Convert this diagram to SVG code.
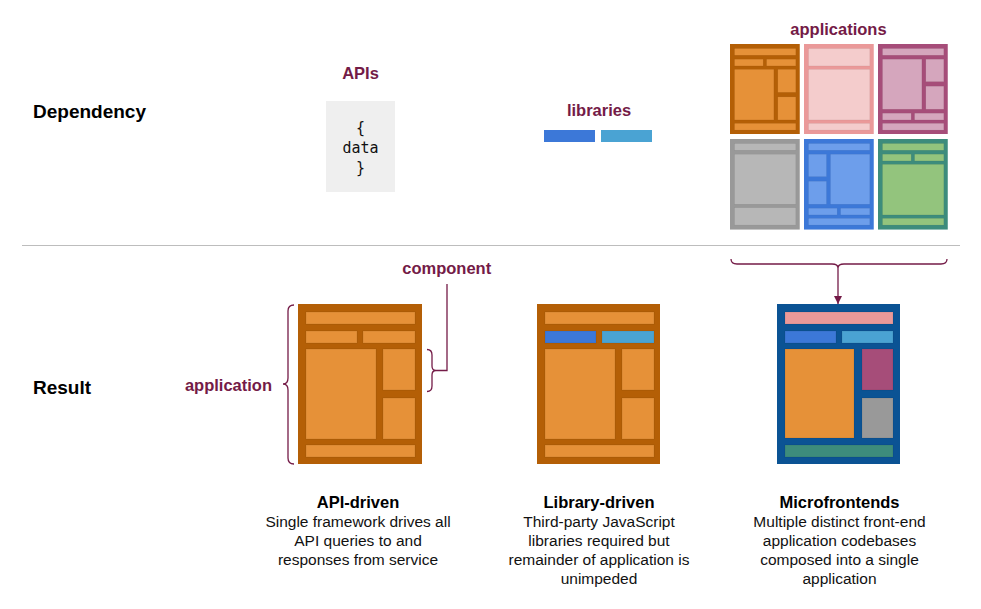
<svg xmlns="http://www.w3.org/2000/svg" width="981" height="609" viewBox="0 0 981 609">
<defs>
<style>
text{font-family:"Liberation Sans",Arial,sans-serif}
.sec{font-size:19px;font-weight:bold;fill:#000}
.lbl{font-size:16.5px;font-weight:bold;fill:#741b47;text-anchor:middle}
.hd{font-size:16.5px;font-weight:bold;fill:#000;text-anchor:middle}
.bd{font-size:15.5px;fill:#111;text-anchor:middle}
.mono{font-family:"DejaVu Sans Mono","Liberation Mono",monospace;font-size:15px;fill:#111;text-anchor:middle}
.in{stroke:#000;stroke-opacity:0.08;stroke-width:1}
.oO{fill:#b45f06}.oI{fill:#e69138}
.pO{fill:#ea9999}.pI{fill:#f4cccc}
.mO{fill:#a64d79}.mI{fill:#d5a6bd}
.gO{fill:#999999}.gI{fill:#b7b7b7}
.bO{fill:#3c78d8}.bI{fill:#6d9eeb}
.tO{fill:#3d8c7c}.tI{fill:#93c47d}
.nO{fill:#0b5394}
.lb1{fill:#3c78d8}.lb2{fill:#4aa3d3}
.con{fill:none;stroke:#741b47;stroke-width:1.3}
</style>
<marker id="arr" viewBox="0 0 8 8" refX="8" refY="4" markerWidth="8" markerHeight="8" markerUnits="userSpaceOnUse" orient="auto">
<path d="M0,0 L8,4 L0,8 z" fill="#741b47"/>
</marker>
</defs>
<rect width="981" height="609" fill="#fff"/>

<g id="section-labels">
<text class="sec" x="33" y="118">Dependency</text>
<text class="sec" x="33" y="394">Result</text>
<line x1="22" y1="245.5" x2="960" y2="245.5" stroke="#bdbdbd" stroke-width="1"/>
</g>

<g id="apis">
<text class="lbl" x="360.5" y="79">APIs</text>
<rect x="326" y="101" width="69" height="91" fill="#efefef"/>
<text class="mono" x="360.5" y="133">{</text>
<text class="mono" x="360.5" y="153">data</text>
<text class="mono" x="360.5" y="173">}</text>
</g>

<g id="libraries">
<text class="lbl" x="599" y="116">libraries</text>
<rect class="lb1" x="544" y="130" width="51" height="12"/>
<rect class="lb2" x="601" y="130" width="51" height="12"/>
</g>

<g id="applications">
<text class="lbl" x="838.5" y="35">applications</text>
<g id="app-orange" transform="translate(730,44) scale(0.5625)">
<rect class="oO" width="124" height="160"/>
<g class="oI in">
<rect x="8" y="8" width="109" height="12"/>
<rect x="8" y="27" width="51" height="12"/><rect x="65" y="27" width="52" height="12"/>
<rect x="8" y="45" width="70" height="90"/>
<rect x="85" y="45" width="32" height="41"/><rect x="85" y="94" width="32" height="41"/>
<rect x="8" y="141" width="109" height="12"/>
</g>
</g>
<g id="app-pink" transform="translate(804,44) scale(0.5625)">
<rect class="pO" width="124" height="160"/>
<g class="pI in">
<rect x="8" y="8" width="109" height="31"/>
<rect x="8" y="45" width="109" height="90"/>
<rect x="8" y="141" width="109" height="12"/>
</g>
</g>
<g id="app-purple" transform="translate(878,44) scale(0.5625)">
<rect class="mO" width="124" height="160"/>
<g class="mI in">
<rect x="8" y="8" width="109" height="12"/>
<rect x="8" y="27" width="70" height="89"/>
<rect x="85" y="27" width="32" height="40"/><rect x="85" y="75" width="32" height="41"/>
<rect x="8" y="123" width="51" height="12"/><rect x="65" y="123" width="52" height="12"/>
<rect x="8" y="141" width="109" height="12"/>
</g>
</g>
<g id="app-gray" transform="translate(730,139) scale(0.5625)">
<rect class="gO" width="124" height="161"/>
<g class="gI in">
<rect x="8" y="8" width="109" height="12"/>
<rect x="8" y="27" width="109" height="89"/>
<rect x="8" y="122" width="109" height="31"/>
</g>
</g>
<g id="app-blue" transform="translate(804,139) scale(0.5625)">
<rect class="bO" width="124" height="161"/>
<g class="bI in">
<rect x="8" y="8" width="109" height="12"/>
<rect x="8" y="27" width="32" height="40"/><rect x="8" y="75" width="32" height="41"/>
<rect x="47" y="27" width="70" height="89"/>
<rect x="8" y="123" width="51" height="12"/><rect x="65" y="123" width="52" height="12"/>
<rect x="8" y="141" width="109" height="12"/>
</g>
</g>
<g id="app-green" transform="translate(878,139) scale(0.5625)">
<rect class="tO" width="124" height="161"/>
<g class="tI in">
<rect x="8" y="8" width="109" height="12"/>
<rect x="8" y="27" width="51" height="12"/><rect x="65" y="27" width="52" height="12"/>
<rect x="8" y="45" width="109" height="90"/>
<rect x="8" y="141" width="109" height="12"/>
</g>
</g>
</g>

<g id="result-api" transform="translate(298,304)">
<rect class="oO" width="124" height="160"/>
<g class="oI in">
<rect x="8" y="8" width="109" height="12"/>
<rect x="8" y="27" width="51" height="12"/><rect x="65" y="27" width="52" height="12"/>
<rect x="8" y="45" width="70" height="90"/>
<rect x="85" y="45" width="32" height="41"/><rect x="85" y="94" width="32" height="41"/>
<rect x="8" y="141" width="109" height="12"/>
</g>
</g>

<g id="result-library" transform="translate(537,304)">
<rect class="oO" width="123" height="160"/>
<g class="in">
<rect class="oI" x="8" y="8" width="109" height="12"/>
<rect class="lb1" x="8" y="27" width="51" height="12"/><rect class="lb2" x="65" y="27" width="52" height="12"/>
<rect class="oI" x="8" y="45" width="70" height="90"/>
<rect class="oI" x="85" y="45" width="32" height="41"/><rect class="oI" x="85" y="94" width="32" height="41"/>
<rect class="oI" x="8" y="141" width="109" height="12"/>
</g>
</g>

<g id="result-micro" transform="translate(777,304)">
<rect class="nO" width="123" height="160"/>
<g class="in">
<rect class="pO" x="8" y="8" width="108" height="12"/>
<rect class="lb1" x="8" y="27" width="51" height="12"/><rect class="lb2" x="65" y="27" width="51" height="12"/>
<rect class="oI" x="8" y="45" width="69" height="89"/>
<rect class="mO" x="85" y="45" width="31" height="41"/><rect class="gO" x="85" y="94" width="31" height="40"/>
<rect class="tO" x="8" y="141" width="108" height="12"/>
</g>
</g>

<g id="annotations">
<text class="lbl" x="446.7" y="274">component</text>
<text class="lbl" x="272" y="391" style="text-anchor:end">application</text>
</g>

<g id="connectors">
<path class="con" d="M294,305 Q288,305 288,311 L288,378 Q288,384 283,384 Q288,384 288,390 L288,458 Q288,464 294,464"/>
<path class="con" d="M427,349.5 Q432,349.5 432,355 L432,366 Q432,370.5 436,370.5 Q432,370.5 432,375 L432,386 Q432,391.5 427,391.5"/>
<path class="con" d="M436,370.5 H447 V284"/>
<path class="con" d="M731,259 Q731,264 737,264 L832,264 Q838,264 838,268 Q838,264 844,264 L941,264 Q947,264 947,259"/>
<path class="con" d="M838,268 V304" marker-end="url(#arr)"/>
</g>

<g id="caption-api">
<text class="hd" x="358" y="508">API-driven</text>
<text class="bd" x="358" y="527">Single framework drives all</text>
<text class="bd" x="358" y="546">API queries to and</text>
<text class="bd" x="358" y="565">responses from service</text>
</g>
<g id="caption-library">
<text class="hd" x="599" y="508">Library-driven</text>
<text class="bd" x="599" y="527">Third-party JavaScript</text>
<text class="bd" x="599" y="546">libraries required but</text>
<text class="bd" x="599" y="565">remainder of application is</text>
<text class="bd" x="599" y="584">unimpeded</text>
</g>
<g id="caption-micro">
<text class="hd" x="839.5" y="508">Microfrontends</text>
<text class="bd" x="839.5" y="527">Multiple distinct front-end</text>
<text class="bd" x="839.5" y="546">application codebases</text>
<text class="bd" x="839.5" y="565">composed into a single</text>
<text class="bd" x="839.5" y="584">application</text>
</g>
</svg>
